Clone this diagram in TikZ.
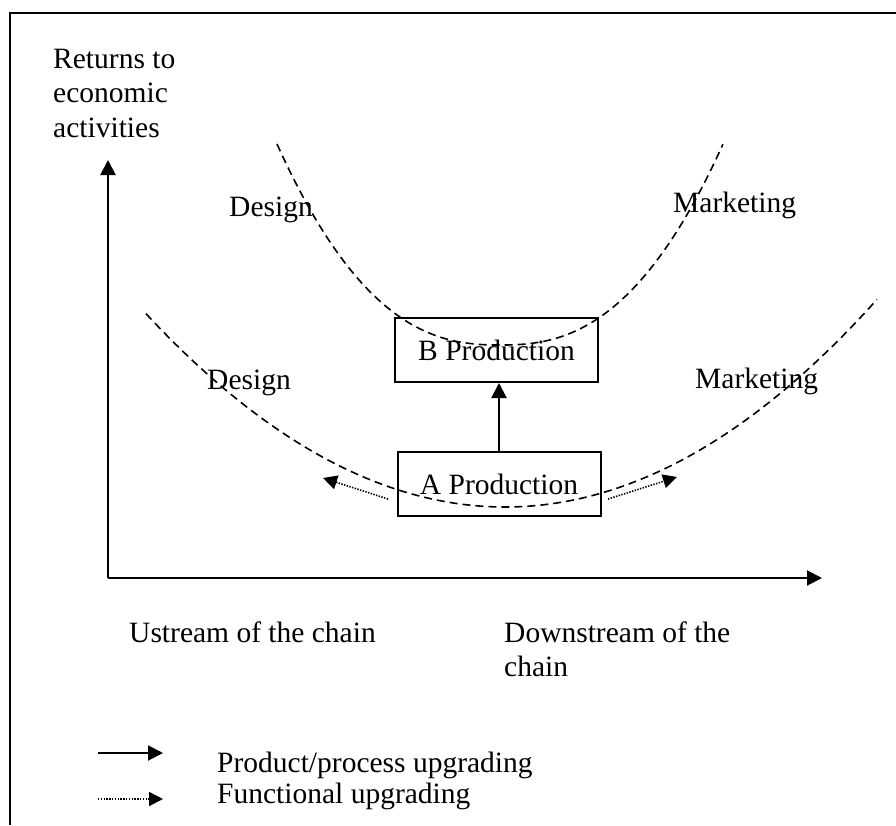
\documentclass[tikz,border=0pt]{standalone}
\usepackage{fontspec}
\setmainfont{Liberation Serif}
\usetikzlibrary{arrows.meta}
\begin{document}
\begin{tikzpicture}[x=1pt,y=-1pt,
  txt/.style={anchor=base west,inner sep=0pt,font=\fontsize{29.5}{34.5}\selectfont},
  box/.style={draw,line width=2pt,minimum width=203pt,minimum height=64pt,inner sep=0pt,font=\fontsize{29.5}{34.5}\selectfont},
  bigtip/.style={-{Triangle[length=15pt,width=15pt]}},
  solidarrow/.style={line width=2pt,bigtip},
  dottedarrow/.style={line width=1.6pt,dash pattern=on 1.4pt off 1.4pt,-{Triangle[length=14pt,width=14pt]}},
  curve/.style={line width=1.6pt,dash pattern=on 8pt off 5pt}
]
\useasboundingbox (0,0) rectangle (896,825);
% frame
\coordinate (fr1) at (896,13);
\coordinate (fr2) at (10,13);
\coordinate (fr3) at (10,825);
\draw[line width=2pt] (fr1) -- (fr2) -- (fr3);

% axes
\coordinate (O) at (108,578);
\coordinate (ytip) at (108,160);
\coordinate (xtip) at (822,578);
\draw[solidarrow] (O) -- (ytip);
\draw[solidarrow] (O) -- (xtip);

% axis labels
\node[txt] (r1) at (53,68) {Returns to};
\node[txt] (r2) at (53,102) {economic};
\node[txt] (r3) at (53,137) {activities};
\node[txt] (up) at (129,642) {Ustream of the chain};
\node[txt] (down1) at (504,642) {Downstream of the};
\node[txt] (down2) at (504,676) {chain};

% curves
\draw[curve] plot[domain=-1:1,samples=81,smooth,variable=\t]
  ({500+223*\t},{345-201*pow(abs(\t),2.46)});
\draw[curve] plot[domain=-3.59:3.72,samples=81,smooth,variable=\t]
  ({505+100*\t},{507-15*\t*\t});

% curve labels
\node[txt] (d1) at (229,216) {Design};
\node[txt] (m1) at (673,212) {Marketing};
\node[txt] (d2) at (207,389) {Design};
\node[txt] (m2) at (695,388) {Marketing};

% boxes
\node[box] (B) at (496.5,350) {B Production};
\node[box] (A) at (499,484) {A Production};
\draw[solidarrow] (A.north) -- (A.north |- B.south);

% functional upgrading arrows
\coordinate (fl0) at (388,499);
\coordinate (fl1) at (323,478);
\coordinate (fr0) at (608,499);
\coordinate (frr) at (677,477);
\draw[dottedarrow] (fl0) -- (fl1);
\draw[dottedarrow] (fr0) -- (frr);

% legend
\coordinate (l1a) at (98,753);
\coordinate (l1b) at (163,753);
\coordinate (l2a) at (98,799);
\coordinate (l2b) at (163,799);
\draw[solidarrow] (l1a) -- (l1b);
\draw[dottedarrow] (l2a) -- (l2b);
\node[txt] (t1) at (217,772) {Product/process upgrading};
\node[txt] (t2) at (217,803) {Functional upgrading};
\end{tikzpicture}
\end{document}
